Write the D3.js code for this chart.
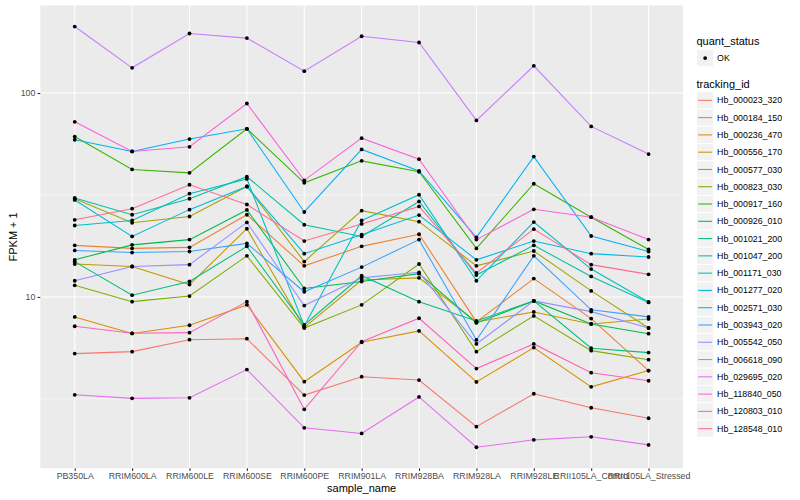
<!DOCTYPE html>
<html>
<head>
<meta charset="utf-8">
<script src="https://cdn.jsdelivr.net/npm/d3@7"></script>
<style>
  body { margin: 0; background: #fff; }
  text { font-family: "Liberation Sans", Arial, sans-serif; }
</style>
</head>
<body>
<div id="vis"></div>
<script>
// samples on the x axis
const samples = ["PB350LA", "RRIM600LA", "RRIM600LE", "RRIM600SE", "RRIM600PE", "RRIM901LA",
    "RRIM928BA", "RRIM928LA", "RRIM928LE", "RRII105LA_Control", "RRII105LA_Stressed"];

const trackingIds = ["Hb_000023_320", "Hb_000184_150", "Hb_000236_470", "Hb_000556_170", "Hb_000577_030",
    "Hb_000823_030", "Hb_000917_160", "Hb_000926_010", "Hb_001021_200", "Hb_001047_200",
    "Hb_001171_030", "Hb_001277_020", "Hb_002571_030", "Hb_003943_020", "Hb_005542_050",
    "Hb_006618_090", "Hb_029695_020", "Hb_118840_050", "Hb_120803_010", "Hb_128548_010"];

const quantStatus = ["OK"];
const yTicks = [10, 100];

// FPKM + 1, one array per tracking id, in sample order
const hb_000023_320 = [5.27, 5.39, 6.17, 6.24, 3.30, 4.06, 3.91, 2.31, 3.35, 2.86, 2.54];
const hb_000184_150 = [17.9, 17.3, 17.5, 25.3, 14.2, 17.7, 20.3, 7.54, 12.3, 7.83, 4.35];
const hb_000236_470 = [7.98, 6.62, 7.26, 9.14, 3.84, 5.99, 6.81, 3.83, 5.64, 3.62, 4.35];
const hb_000556_170 = [14.5, 14.1, 11.5, 21.6, 7.09, 12.1, 12.4, 7.54, 8.44, 7.37, 7.80];
const hb_000577_030 = [30.3, 23.1, 24.8, 34.8, 14.9, 26.5, 23.4, 14.2, 16.8, 10.7, 7.04];
const hb_000823_030 = [11.4, 9.48, 10.1, 15.9, 7.04, 9.14, 14.5, 5.39, 8.07, 5.45, 4.92];
const hb_000917_160 = [61.2, 42.2, 40.6, 66.8, 36.3, 46.5, 41.1, 17.3, 35.9, 24.6, 17.1];
const hb_000926_010 = [15.2, 18.0, 19.1, 26.7, 11.0, 11.9, 13.0, 7.45, 9.56, 7.37, 6.60];
const hb_001021_200 = [14.9, 10.2, 11.9, 17.7, 7.29, 12.7, 9.48, 7.62, 9.56, 5.60, 5.33];
const hb_001047_200 = [30.6, 25.3, 30.3, 38.9, 22.6, 19.8, 29.4, 12.8, 17.9, 12.6, 9.40];
const hb_001171_030 = [22.4, 23.7, 32.1, 37.9, 7.20, 23.7, 31.7, 12.0, 23.3, 13.7, 9.45];
const hb_001277_020 = [29.9, 19.8, 26.8, 34.8, 16.3, 20.2, 25.2, 15.2, 18.8, 16.3, 15.7];
const hb_002571_030 = [59.0, 51.7, 59.5, 66.8, 26.1, 52.9, 41.5, 19.6, 48.8, 19.9, 16.7];
const hb_003943_020 = [16.9, 16.5, 16.7, 18.3, 10.6, 14.0, 19.1, 6.15, 15.9, 8.64, 7.98];
const hb_005542_050 = [12.0, 14.1, 14.4, 23.2, 9.07, 12.4, 13.2, 5.88, 9.56, 8.47, 7.04];
const hb_006618_090 = [212, 133, 196, 186, 128, 190, 177, 73.4, 136, 68.6, 50.2];
const hb_029695_020 = [3.31, 3.18, 3.20, 4.40, 2.28, 2.14, 3.23, 1.83, 1.99, 2.06, 1.88];
const hb_118840_050 = [72.3, 51.7, 54.5, 88.9, 37.3, 60.1, 47.4, 19.1, 26.9, 24.6, 19.1];
const hb_120803_010 = [7.18, 6.63, 6.68, 9.48, 2.81, 6.03, 7.86, 4.45, 5.88, 4.25, 3.88];
const hb_128548_010 = [23.9, 27.1, 35.5, 28.4, 18.8, 22.8, 27.8, 13.1, 21.5, 14.4, 12.9];

const seriesValues = [hb_000023_320, hb_000184_150, hb_000236_470, hb_000556_170, hb_000577_030,
    hb_000823_030, hb_000917_160, hb_000926_010, hb_001021_200, hb_001047_200,
    hb_001171_030, hb_001277_020, hb_002571_030, hb_003943_020, hb_005542_050,
    hb_006618_090, hb_029695_020, hb_118840_050, hb_120803_010, hb_128548_010];

// ggplot default hue palette for 20 groups
const palette = ["#F8766D", "#EA8331", "#D89000", "#C09B00", "#A3A500", "#7CAE00", "#39B600",
    "#00BB4E", "#00BF7D", "#00C1A3", "#00BFC4", "#00BAE0", "#00B0F6", "#35A2FF", "#9590FF",
    "#C77CFF", "#E76BF3", "#FA62DB", "#FF62BC", "#FF6C91"];

const width = 800, height = 500;
const panel = { left: 40.3, right: 683, top: 5.5, bottom: 468.3 };

const svg = d3.select("#vis")
    .append("svg")
    .attr("width", width)
    .attr("height", height);

const series = trackingIds.map((id, i) => ({
    id: id,
    color: palette[i],
    values: seriesValues[i].map((v, j) => ({ sample: samples[j], value: v }))
}));

// log10 scale with ggplot's 5% expansion
const allValues = series.flatMap(s => s.values.map(d => d.value));
const lo = Math.log10(d3.min(allValues));
const hi = Math.log10(d3.max(allValues));
const pad = (hi - lo) * 0.05;

const y = d3.scaleLog()
    .domain([Math.pow(10, lo - pad), Math.pow(10, hi + pad)])
    .range([panel.bottom, panel.top]);

const x = d3.scalePoint()
    .domain(samples)
    .range([panel.left, panel.right])
    .padding(0.6);

// panel background + grid
svg.append("rect")
    .attr("x", panel.left)
    .attr("y", panel.top)
    .attr("width", panel.right - panel.left)
    .attr("height", panel.bottom - panel.top)
    .attr("fill", "#EBEBEB");

const minorY = [Math.pow(10, 0.5), Math.pow(10, 1.5), Math.pow(10, 2.5)]
    .filter(v => v > y.domain()[0] && v < y.domain()[1]);

svg.selectAll(".grid-minor")
    .data(minorY)
    .enter().append("line")
    .attr("class", "grid-minor")
    .attr("x1", panel.left).attr("x2", panel.right)
    .attr("y1", d => y(d)).attr("y2", d => y(d))
    .attr("stroke", "#fff").attr("stroke-width", 0.53);

svg.selectAll(".grid-major-y")
    .data(yTicks)
    .enter().append("line")
    .attr("class", "grid-major-y")
    .attr("x1", panel.left).attr("x2", panel.right)
    .attr("y1", d => y(d)).attr("y2", d => y(d))
    .attr("stroke", "#fff").attr("stroke-width", 1.07);

svg.selectAll(".grid-major-x")
    .data(samples)
    .enter().append("line")
    .attr("class", "grid-major-x")
    .attr("x1", d => x(d)).attr("x2", d => x(d))
    .attr("y1", panel.top).attr("y2", panel.bottom)
    .attr("stroke", "#fff").attr("stroke-width", 1.07);

// lines
const line = d3.line()
    .x(d => x(d.sample))
    .y(d => y(d.value));

svg.selectAll(".series")
    .data(series)
    .enter().append("path")
    .attr("class", "series")
    .attr("d", d => line(d.values))
    .attr("fill", "none")
    .attr("stroke", d => d.color)
    .attr("stroke-width", 1.07);

// points
svg.selectAll(".pt")
    .data(series.flatMap(s => s.values))
    .enter().append("circle")
    .attr("class", "pt")
    .attr("cx", d => x(d.sample))
    .attr("cy", d => y(d.value))
    .attr("r", 1.9)
    .attr("fill", "#000");

// axes
function styleAxis(g) {
    g.select(".domain").remove();
    g.selectAll(".tick line").attr("stroke", "#333").attr("stroke-width", 1.07);
    g.selectAll(".tick text")
        .attr("fill", "#4D4D4D")
        .style("font-size", "8.8px")
        .style("font-family", "'Liberation Sans', Arial, sans-serif");
}

svg.append("g")
    .attr("transform", `translate(${panel.left},0)`)
    .call(d3.axisLeft(y).tickValues(yTicks).tickFormat(d3.format("d")).tickSize(2.75).tickPadding(2.2))
    .call(styleAxis);

svg.append("g")
    .attr("transform", `translate(0,${panel.bottom})`)
    .call(d3.axisBottom(x).tickSize(2.75).tickPadding(2.2))
    .call(styleAxis);

// axis titles
svg.append("text")
    .attr("x", (panel.left + panel.right) / 2)
    .attr("y", 492)
    .attr("text-anchor", "middle")
    .style("font-size", "11px")
    .text("sample_name");

svg.append("text")
    .attr("transform", `translate(16.5,${(panel.top + panel.bottom) / 2}) rotate(-90)`)
    .attr("text-anchor", "middle")
    .style("font-size", "11px")
    .text("FPKM + 1");

// legends
const legX = 696.5, keySize = 17.28;

const leg = svg.append("g");

leg.append("text")
    .attr("x", legX).attr("y", 44.5)
    .style("font-size", "11px")
    .text("quant_status");

const qs = leg.selectAll(".qs")
    .data(quantStatus)
    .enter().append("g")
    .attr("transform", (d, i) => `translate(${legX},${49.4 + i * keySize})`);
qs.append("rect")
    .attr("width", keySize).attr("height", keySize)
    .attr("fill", "#F2F2F2").attr("stroke", "#fff").attr("stroke-width", 1);
qs.append("circle")
    .attr("cx", keySize / 2).attr("cy", keySize / 2).attr("r", 1.9).attr("fill", "#000");
qs.append("text")
    .attr("x", keySize + 3.3).attr("y", keySize / 2)
    .attr("dy", "0.35em")
    .style("font-size", "8.8px")
    .text(d => d);

leg.append("text")
    .attr("x", legX).attr("y", 87.5)
    .style("font-size", "11px")
    .text("tracking_id");

const keys = leg.selectAll(".key")
    .data(series)
    .enter().append("g")
    .attr("class", "key")
    .attr("transform", (d, i) => `translate(${legX},${91.7 + i * keySize})`);
keys.append("rect")
    .attr("width", keySize).attr("height", keySize)
    .attr("fill", "#F2F2F2").attr("stroke", "#fff").attr("stroke-width", 1);
keys.append("line")
    .attr("x1", 1.7).attr("x2", keySize - 1.7)
    .attr("y1", keySize / 2).attr("y2", keySize / 2)
    .attr("stroke", d => d.color).attr("stroke-width", 1.07);
keys.append("text")
    .attr("x", keySize + 3.3).attr("y", keySize / 2)
    .attr("dy", "0.35em")
    .style("font-size", "8.8px")
    .text(d => d.id);
</script>
</body>
</html>
